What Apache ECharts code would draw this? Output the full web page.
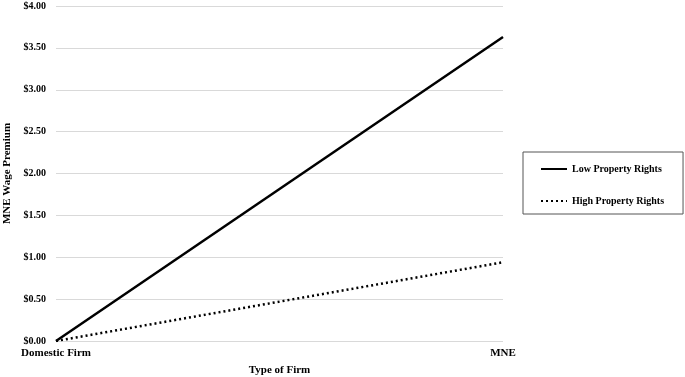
<!DOCTYPE html>
<html><head><meta charset="utf-8">
<script src="https://cdn.jsdelivr.net/npm/echarts@6/dist/echarts.min.js"></script>
<style>html,body{margin:0;padding:0;background:#fff}#c{width:685px;height:377px}</style>
</head><body><div id="c"></div>
<script>
const categories = ['Domestic Firm', 'MNE'];
const lowRights = [0.00, 3.63];
const highRights = [0.00, 0.94];
const yTicks = [0, 0.5, 1, 1.5, 2, 2.5, 3, 3.5, 4];

const font = 'Liberation Serif';
const chart = echarts.init(document.getElementById('c'));
chart.setOption({
  animation: false,
  grid: {left: 56, right: 182, top: 6, bottom: 36, containLabel: false, outerBoundsMode: 'none'},
  xAxis: {
    type: 'category', data: categories, boundaryGap: false,
    name: 'Type of Firm', nameLocation: 'middle', nameGap: 24,
    nameTextStyle: {fontFamily: font, fontWeight: 'bold', fontSize: 11, color: '#000'},
    axisLine: {show: false}, axisTick: {show: false},
    axisLabel: {fontFamily: font, fontWeight: 'bold', fontSize: 11, color: '#000', margin: 7}
  },
  yAxis: {
    type: 'value', min: 0, max: 4, interval: 0.5,
    name: 'MNE Wage Premium', nameLocation: 'middle', nameGap: 41,
    nameTextStyle: {fontFamily: font, fontWeight: 'bold', fontSize: 11, color: '#000'},
    axisLine: {show: false}, axisTick: {show: false},
    splitLine: {lineStyle: {color: '#d9d9d9', width: 1}},
    axisLabel: {fontFamily: font, fontWeight: 'bold', fontSize: 10, color: '#000', margin: 10,
      formatter: v => '$' + v.toFixed(2)}
  },
  legend: {
    orient: 'vertical', left: 523, top: 152,
    padding: [12, 19, 8, 17], itemGap: 22, itemWidth: 26, itemHeight: 10,
    borderColor: '#555', borderWidth: 1,
    itemStyle: {opacity: 0},
    textStyle: {fontFamily: font, fontWeight: 'bold', fontSize: 10, color: '#000'},
    data: ['Low Property Rights', 'High Property Rights']
  },
  series: [
    {name: 'Low Property Rights', type: 'line', data: lowRights, symbol: 'none',
      lineStyle: {color: '#000', width: 2.5, type: 'solid'}, itemStyle: {color: '#000'}},
    {name: 'High Property Rights', type: 'line', data: highRights, symbol: 'none',
      lineStyle: {color: '#000', width: 2.5, type: [2, 3]}, itemStyle: {color: '#000'}}
  ]
});
</script></body></html>
